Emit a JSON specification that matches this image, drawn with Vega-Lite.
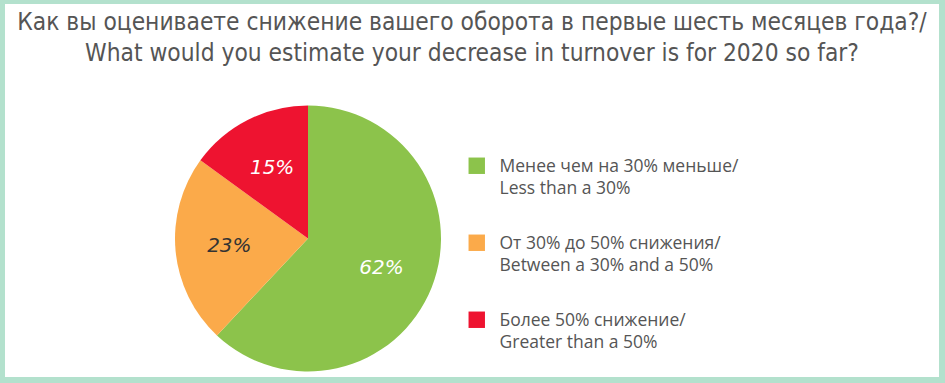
{
  "$schema": "https://vega.github.io/schema/vega-lite/v6.json",
  "autosize": "none",
  "width": 934,
  "height": 373,
  "padding": {"left": 5, "top": 4, "right": 6, "bottom": 6},
  "background": "#b3e1cd",
  "config": {"view": {"stroke": null}},
  "title": {
    "text": ["Как вы оцениваете снижение вашего оборота в первые шесть месяцев года?/", "What would you estimate your decrease in turnover is for 2020 so far?"],
    "font": "DejaVu Sans Condensed",
    "fontSize": 24.3,
    "fontWeight": "normal",
    "color": "#555555",
    "lineHeight": 31,
    "anchor": "middle",
    "baseline": "top",
    "offset": -6,
    "dy": 56
  },
  "data": {
    "values": [
      {"category": "Менее чем на 30% меньше/|Less than a 30%", "share": 0.62, "order": 1},
      {"category": "От 30% до 50% снижения/|Between a 30% and a 50%", "share": 0.23, "order": 2},
      {"category": "Более 50% снижение/|Greater than a 50%", "share": 0.15, "order": 3}
    ]
  },
  "layer": [
    {
      "data": {"values": [{}]},
      "mark": {"type": "rect", "fill": "#ffffff", "strokeWidth": 0},
      "encoding": {}
    },
    {
      "mark": {"type": "arc", "outerRadius": 133, "xOffset": -164, "yOffset": 48},
      "encoding": {
        "theta": {"field": "share", "type": "quantitative", "stack": true},
        "order": {"field": "order", "type": "quantitative"},
        "color": {
          "field": "category",
          "type": "nominal",
          "scale": {
            "domain": ["Менее чем на 30% меньше/|Less than a 30%", "От 30% до 50% снижения/|Between a 30% and a 50%", "Более 50% снижение/|Greater than a 50%"],
            "range": ["#8cc34b", "#fbaa4a", "#ee1330"]
          },
          "legend": {
            "orient": "none",
            "legendX": 463,
            "legendY": 153,
            "title": null,
            "symbolType": "square",
            "symbolSize": 270,
            "symbolStrokeWidth": 0,
            "labelFont": "Open Sans",
            "labelFontSize": 17.5,
            "labelColor": "#555555",
            "labelLimit": 0,
            "labelOffset": 14,
            "labelBaseline": "top",
            "labelExpr": "split(datum.label, '|')",
            "rowPadding": 36,
            "encode": {"labels": {"update": {"lineHeight": {"value": 22}, "dy": {"value": -8}}}}
          }
        }
      }
    },
    {
      "mark": {"type": "text", "radius": 79, "xOffset": -164, "yOffset": 48, "font": "DejaVu Sans", "fontStyle": "italic", "fontSize": 20},
      "encoding": {
        "theta": {"field": "share", "type": "quantitative", "stack": true},
        "order": {"field": "order", "type": "quantitative"},
        "text": {"field": "share", "type": "quantitative", "format": ".0%"},
        "color": {"condition": {"test": "datum.order === 2", "value": "#333333"}, "value": "#ffffff"}
      }
    }
  ]
}
